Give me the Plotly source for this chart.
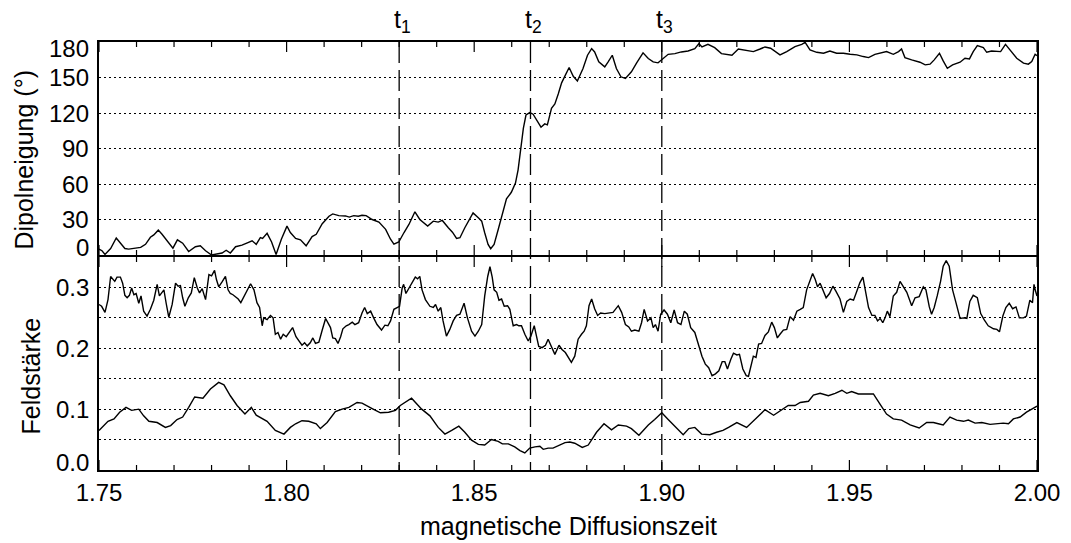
import plotly.graph_objects as go

# Dipolneigung in Grad über der magnetischen Diffusionszeit
t_neigung = [
    1.7500, 1.7508, 1.7516, 1.7531, 1.7546, 1.7557, 1.7569, 1.7579, 1.7597, 1.7611,
    1.7624, 1.7637, 1.7646, 1.7658, 1.7668, 1.7682, 1.7697, 1.7709, 1.7723, 1.7739,
    1.7757, 1.7770, 1.7784, 1.7800, 1.7815, 1.7828, 1.7839, 1.7850, 1.7864, 1.7881,
    1.7897, 1.7908, 1.7919, 1.7930, 1.7936, 1.7948, 1.7960, 1.7972, 1.7986, 1.8001,
    1.8010, 1.8024, 1.8037, 1.8052, 1.8068, 1.8079, 1.8095, 1.8113, 1.8123, 1.8139,
    1.8157, 1.8167, 1.8179, 1.8191, 1.8201, 1.8212, 1.8228, 1.8246, 1.8264, 1.8277,
    1.8286, 1.8299, 1.8313, 1.8326,
    1.8342, 1.8355, 1.8376, 1.8391, 1.8404, 1.8415, 1.8431, 1.8442, 1.8453, 1.8462,
    1.8475, 1.8488, 1.8497, 1.8511, 1.8520, 1.8528, 1.8537, 1.8544, 1.8553, 1.8564,
    1.8575, 1.8586, 1.8599, 1.8610, 1.8617, 1.8624, 1.8631, 1.8638, 1.8648, 1.8657,
    1.8666, 1.8678, 1.8688, 1.8695, 1.8706, 1.8715, 1.8724, 1.8733, 1.8743, 1.8753,
    1.8764, 1.8775, 1.8790, 1.8802, 1.8813, 1.8821, 1.8832, 1.8848, 1.8857, 1.8868,
    1.8879, 1.8891, 1.8903, 1.8919, 1.8933, 1.8950, 1.8964, 1.8977, 1.8990, 1.9000,
    1.9017, 1.9035, 1.9052, 1.9070, 1.9088, 1.9099, 1.9107, 1.9123, 1.9141, 1.9159,
    1.9177, 1.9187,
    1.9204, 1.9222, 1.9244, 1.9262, 1.9275, 1.9290, 1.9302, 1.9315, 1.9333, 1.9355,
    1.9373, 1.9382, 1.9395, 1.9413, 1.9431, 1.9448, 1.9466, 1.9484, 1.9502, 1.9520,
    1.9537, 1.9551, 1.9568, 1.9586, 1.9599, 1.9617, 1.9631, 1.9639, 1.9648, 1.9666,
    1.9688, 1.9702, 1.9715, 1.9726, 1.9740, 1.9750, 1.9761, 1.9775, 1.9795, 1.9808,
    1.9820, 1.9830, 1.9841, 1.9857, 1.9866, 1.9879, 1.9893, 1.9903, 1.9916, 1.9928,
    1.9946, 1.9964, 1.9977, 1.9986, 1.9995, 2.0000,
]
neigung = [
    5, 3.6, 0.5, 5.5, 14.4, 10.5, 5.5, 5, 5.5, 6.4,
    9, 15, 17, 21, 17.5, 12, 5.8, 12.8, 10, 3,
    7, 7.8, 3.6, 0, 1, 1.7, 4, 1.7, 7, 8.3,
    10.5, 12, 9, 14.7, 14, 18.3, 11, 0.5, 13.3, 24.4,
    19, 14, 12.8, 7.8, 15.6, 17.5, 26.4, 32.8, 34.7, 33.3,
    33, 32, 33.3, 32.8, 33.6, 33.3, 30, 27.8, 21.7, 13.3,
    9.2, 11, 19, 25.8,
    36.5, 30, 24.4, 28.6, 27.8, 29.2, 23, 19.3, 14, 14.6,
    23, 30.8, 35.6, 31.4, 28.6, 18.8, 9, 5.3, 9, 21.6,
    34.2, 47.4, 53, 60.8, 72, 91.7, 107, 118.3, 120.3, 119,
    114.7, 108, 110.8, 110, 124, 127.6, 136, 145.5, 152, 158.4,
    151, 147, 157.6, 168.8, 174.4, 171.6, 163.2, 159, 163.2, 168.8,
    157.6, 150.6, 149.2, 154.8, 162.4, 170.8, 166, 163.2, 162.4, 165.2,
    169.6, 170.2, 171.6, 172.4, 174.4, 178.6, 175.8, 178, 175.2, 170.2,
    169.6, 168.8,
    174.1, 173.3, 171.9, 174.1, 175.8, 174.7, 171.9, 169.1, 171.9, 176.1,
    178, 179.7, 173.3, 171.3, 170.5, 172.4, 170.5, 170.5, 169.6, 169.1,
    167.7, 166.8, 169.6, 171.3, 171.9, 169.6, 171.9, 174.1, 166.8, 164.9,
    162.9, 160.7, 161.3, 164.9, 170.5, 164, 157.8, 160.7, 162.9, 166.3,
    165.7, 171.9, 176.9, 175.2, 171.3, 172.4, 172.4, 171.9, 178, 173.3,
    166.3, 162.1, 161.3, 163.5, 169.6, 168.5,
]

# Feldstärke, stärkere (obere) Komponente
t_feld_oben = [
    1.7500, 1.7507, 1.7516, 1.7524, 1.7531, 1.7537, 1.7542, 1.7548, 1.7557, 1.7563,
    1.7569, 1.7575, 1.7581, 1.7587, 1.7593, 1.7599, 1.7606, 1.7612, 1.7619, 1.7628,
    1.7637, 1.7646, 1.7655, 1.7661, 1.7667, 1.7673, 1.7679, 1.7686, 1.7695, 1.7704,
    1.7711, 1.7717, 1.7723, 1.7729, 1.7738, 1.7746, 1.7754, 1.7762, 1.7768, 1.7775,
    1.7784, 1.7793, 1.7800, 1.7808, 1.7813, 1.7819, 1.7828, 1.7837, 1.7844, 1.7850,
    1.7857, 1.7864, 1.7871, 1.7878, 1.7886, 1.7895, 1.7904, 1.7913, 1.7921, 1.7928,
    1.7935, 1.7939, 1.7948, 1.7957, 1.7964, 1.7970, 1.7977, 1.7984, 1.7991, 1.7999,
    1.8008, 1.8016, 1.8025, 1.8032, 1.8041, 1.8048, 1.8055, 1.8063, 1.8070, 1.8077,
    1.8086, 1.8095, 1.8104, 1.8111, 1.8117, 1.8123, 1.8130, 1.8137, 1.8144, 1.8150,
    1.8159, 1.8166, 1.8175, 1.8182, 1.8192, 1.8201, 1.8208, 1.8215, 1.8224, 1.8232,
    1.8241, 1.8253, 1.8262, 1.8270, 1.8277, 1.8286, 1.8294, 1.8301, 1.8308, 1.8312,
    1.8318, 1.8327, 1.8336, 1.8343,
    1.8349, 1.8355, 1.8361, 1.8370, 1.8382, 1.8391, 1.8397, 1.8404, 1.8411, 1.8417,
    1.8426, 1.8435, 1.8444, 1.8453, 1.8462, 1.8473, 1.8482, 1.8493, 1.8502, 1.8511,
    1.8520, 1.8528, 1.8536, 1.8542, 1.8548, 1.8553, 1.8560, 1.8566, 1.8573, 1.8580,
    1.8589, 1.8595, 1.8604, 1.8613, 1.8619, 1.8626, 1.8635, 1.8644, 1.8651, 1.8660,
    1.8666, 1.8672, 1.8681, 1.8690, 1.8697, 1.8706, 1.8715, 1.8726, 1.8734, 1.8743,
    1.8752, 1.8759, 1.8768, 1.8777, 1.8786, 1.8793, 1.8799, 1.8806, 1.8813, 1.8821,
    1.8829, 1.8837, 1.8848, 1.8859, 1.8870, 1.8884, 1.8893, 1.8903, 1.8912, 1.8919,
    1.8928, 1.8939, 1.8946, 1.8953, 1.8962, 1.8971, 1.8977, 1.8983, 1.8990, 1.8997,
    1.9006, 1.9015, 1.9024, 1.9033, 1.9042, 1.9051, 1.9060, 1.9068, 1.9077, 1.9088,
    1.9097, 1.9107, 1.9116, 1.9125, 1.9134, 1.9143, 1.9152, 1.9161, 1.9168, 1.9175,
    1.9184,
    1.9191, 1.9200, 1.9207, 1.9216, 1.9225, 1.9231, 1.9237, 1.9244, 1.9251, 1.9258,
    1.9266, 1.9275, 1.9284, 1.9293, 1.9300, 1.9308, 1.9315, 1.9324, 1.9333, 1.9342,
    1.9351, 1.9360, 1.9369, 1.9377, 1.9386, 1.9395, 1.9402, 1.9409, 1.9415, 1.9422,
    1.9429, 1.9438, 1.9447, 1.9456, 1.9464, 1.9475, 1.9484, 1.9493, 1.9502, 1.9511,
    1.9520, 1.9528, 1.9536, 1.9542, 1.9551, 1.9560, 1.9568, 1.9575, 1.9582, 1.9589,
    1.9595, 1.9601, 1.9608, 1.9617, 1.9626, 1.9635, 1.9644, 1.9653, 1.9666, 1.9675,
    1.9686, 1.9697, 1.9704, 1.9713, 1.9719, 1.9726, 1.9734, 1.9743, 1.9750, 1.9758,
    1.9766, 1.9775, 1.9784, 1.9795, 1.9804, 1.9813, 1.9821, 1.9830, 1.9841, 1.9850,
    1.9859, 1.9870, 1.9884, 1.9893, 1.9900, 1.9909, 1.9917, 1.9926, 1.9935, 1.9944,
    1.9953, 1.9964, 1.9972, 1.9981, 1.9988, 1.9992, 1.9996, 2.0000,
]
feld_oben = [
    0.272, 0.269, 0.259, 0.280, 0.318, 0.314, 0.310, 0.317, 0.317, 0.307,
    0.287, 0.283, 0.287, 0.299, 0.288, 0.290, 0.274, 0.286, 0.261, 0.253,
    0.264, 0.279, 0.305, 0.286, 0.291, 0.296, 0.274, 0.251, 0.272, 0.307,
    0.302, 0.303, 0.283, 0.269, 0.283, 0.291, 0.316, 0.299, 0.291, 0.298,
    0.280, 0.321, 0.319, 0.328, 0.313, 0.301, 0.309, 0.318, 0.296, 0.290,
    0.288, 0.285, 0.281, 0.275, 0.285, 0.294, 0.306, 0.296, 0.275, 0.267,
    0.237, 0.250, 0.247, 0.254, 0.250, 0.223, 0.226, 0.215, 0.223, 0.219,
    0.226, 0.234, 0.219, 0.212, 0.205, 0.209, 0.204, 0.209, 0.217, 0.208,
    0.210, 0.230, 0.249, 0.241, 0.234, 0.217, 0.216, 0.208, 0.219, 0.232,
    0.237, 0.239, 0.243, 0.239, 0.242, 0.258, 0.267, 0.257, 0.261, 0.250,
    0.239, 0.230, 0.238, 0.237, 0.245, 0.264, 0.267, 0.269, 0.299, 0.305,
    0.290, 0.299, 0.310, 0.317,
    0.314, 0.318, 0.296, 0.280, 0.269, 0.267, 0.272, 0.261, 0.267, 0.245,
    0.220, 0.231, 0.245, 0.254, 0.256, 0.274, 0.250, 0.228, 0.220, 0.228,
    0.239, 0.286, 0.318, 0.334, 0.317, 0.296, 0.292, 0.279, 0.281, 0.269,
    0.270, 0.264, 0.237, 0.239, 0.237, 0.237, 0.223, 0.212, 0.220, 0.237,
    0.220, 0.203, 0.201, 0.205, 0.215, 0.201, 0.190, 0.205, 0.198, 0.193,
    0.185, 0.177, 0.187, 0.215, 0.223, 0.228, 0.237, 0.270, 0.281, 0.265,
    0.254, 0.258, 0.257, 0.258, 0.259, 0.270, 0.259, 0.239, 0.235, 0.228,
    0.230, 0.228, 0.242, 0.264, 0.245, 0.250, 0.234, 0.239, 0.228, 0.256,
    0.263, 0.256, 0.242, 0.263, 0.242, 0.239, 0.261, 0.256, 0.234, 0.226,
    0.207, 0.187, 0.174, 0.168, 0.155, 0.158, 0.163, 0.178, 0.178, 0.166,
    0.182,
    0.192, 0.189, 0.190, 0.166, 0.155, 0.154, 0.171, 0.187, 0.185, 0.207,
    0.208, 0.221, 0.227, 0.243, 0.234, 0.217, 0.223, 0.230, 0.231, 0.252,
    0.246, 0.261, 0.264, 0.267, 0.296, 0.310, 0.323, 0.313, 0.301, 0.307,
    0.296, 0.283, 0.290, 0.302, 0.294, 0.281, 0.259, 0.277, 0.281, 0.279,
    0.294, 0.308, 0.317, 0.299, 0.267, 0.254, 0.254, 0.245, 0.249, 0.242,
    0.250, 0.261, 0.252, 0.286, 0.292, 0.310, 0.301, 0.292, 0.270, 0.283,
    0.285, 0.301, 0.296, 0.268, 0.256, 0.267, 0.286, 0.310, 0.335, 0.344,
    0.335, 0.296, 0.275, 0.249, 0.250, 0.249, 0.277, 0.287, 0.283, 0.257,
    0.247, 0.237, 0.232, 0.231, 0.227, 0.253, 0.267, 0.274, 0.265, 0.268,
    0.250, 0.250, 0.253, 0.279, 0.275, 0.305, 0.294, 0.286,
]

# Feldstärke, schwächere (untere) Komponente
t_feld_unten = [
    1.7500, 1.7510, 1.7524, 1.7540, 1.7555, 1.7572, 1.7587, 1.7606, 1.7619, 1.7633,
    1.7655, 1.7677, 1.7691, 1.7708, 1.7723, 1.7739, 1.7755, 1.7777, 1.7797, 1.7819,
    1.7833, 1.7850, 1.7868, 1.7889, 1.7906, 1.7919, 1.7933, 1.7948, 1.7970, 1.7993,
    1.8010, 1.8024, 1.8041, 1.8059, 1.8079, 1.8090, 1.8108, 1.8130, 1.8148, 1.8166,
    1.8188, 1.8201, 1.8228, 1.8250, 1.8272, 1.8290, 1.8303, 1.8321, 1.8333,
    1.8360, 1.8382, 1.8404, 1.8422, 1.8440, 1.8459, 1.8475, 1.8493, 1.8511, 1.8528,
    1.8546, 1.8564, 1.8575, 1.8591, 1.8608, 1.8622, 1.8635, 1.8648, 1.8662, 1.8675,
    1.8684, 1.8697, 1.8710, 1.8726, 1.8742, 1.8755, 1.8768, 1.8788, 1.8804, 1.8826,
    1.8846, 1.8866, 1.8884, 1.8906, 1.8919, 1.8939, 1.8964, 1.8981, 1.9000, 1.9017,
    1.9039, 1.9057, 1.9072, 1.9088, 1.9106, 1.9128, 1.9146, 1.9163, 1.9178,
    1.9200, 1.9226, 1.9249, 1.9275, 1.9298, 1.9320, 1.9337, 1.9355, 1.9369, 1.9391,
    1.9404, 1.9422, 1.9444, 1.9462, 1.9480, 1.9493, 1.9506, 1.9524, 1.9546, 1.9564,
    1.9582, 1.9599, 1.9617, 1.9639, 1.9662, 1.9686, 1.9706, 1.9724, 1.9737, 1.9750,
    1.9768, 1.9786, 1.9804, 1.9817, 1.9835, 1.9853, 1.9875, 1.9893, 1.9910, 1.9924,
    1.9937, 1.9955, 1.9972, 1.9986, 2.0000,
]
feld_unten = [
    0.065, 0.072, 0.080, 0.084, 0.095, 0.103, 0.098, 0.100, 0.089, 0.080,
    0.078, 0.070, 0.073, 0.083, 0.087, 0.103, 0.120, 0.118, 0.133, 0.144,
    0.140, 0.122, 0.106, 0.092, 0.103, 0.090, 0.085, 0.080, 0.065, 0.059,
    0.070, 0.076, 0.081, 0.080, 0.076, 0.068, 0.078, 0.096, 0.100, 0.103,
    0.111, 0.110, 0.101, 0.094, 0.095, 0.098, 0.106, 0.114, 0.118,
    0.100, 0.089, 0.070, 0.059, 0.065, 0.072, 0.062, 0.049, 0.042, 0.041,
    0.050, 0.047, 0.043, 0.043, 0.038, 0.032, 0.028, 0.036, 0.038, 0.039,
    0.034, 0.036, 0.036, 0.041, 0.045, 0.046, 0.044, 0.037, 0.041, 0.062,
    0.076, 0.066, 0.074, 0.072, 0.068, 0.057, 0.074, 0.083, 0.094, 0.083,
    0.069, 0.058, 0.068, 0.070, 0.059, 0.058, 0.062, 0.065, 0.070,
    0.078, 0.070, 0.084, 0.099, 0.090, 0.099, 0.106, 0.106, 0.111, 0.113,
    0.123, 0.126, 0.122, 0.126, 0.131, 0.126, 0.129, 0.125, 0.125, 0.125,
    0.108, 0.092, 0.084, 0.082, 0.074, 0.069, 0.078, 0.078, 0.076, 0.074,
    0.087, 0.082, 0.080, 0.082, 0.077, 0.078, 0.075, 0.076, 0.077, 0.076,
    0.084, 0.087, 0.095, 0.100, 0.105,
]

# markierte Zeitpunkte
ereignis_t = [1.83, 1.865, 1.90]
ereignis_namen = ["t<sub>1</sub>", "t<sub>2</sub>", "t<sub>3</sub>"]

# Achsenbeschriftungen
zeit_ticks = [1.75, 1.80, 1.85, 1.90, 1.95, 2.00]
zeit_schritt_fein = 0.01
neigung_ticks = [0, 30, 60, 90, 120, 150, 180]
feld_ticks = [0.0, 0.1, 0.2, 0.3]

FONT = "Liberation Sans, Arial, Helvetica, sans-serif"
TICK_SIZE = 24
TITLE_SIZE = 25
STRICH_FARBE = "black"

# Zeichenfläche 428 px hoch; die beiden Rahmenlinien in der Mitte
# sollen auf derselben Pixelzeile liegen
PLOT_H = 428
FUGE = 1 / PLOT_H

fig = go.Figure()

kurve = dict(color="black", width=1.4)
fig.add_trace(go.Scatter(x=t_neigung, y=neigung, mode="lines", line=kurve,
                         xaxis="x2", yaxis="y2", hoverinfo="skip"))
fig.add_trace(go.Scatter(x=t_feld_oben, y=feld_oben, mode="lines", line=kurve,
                         xaxis="x", yaxis="y", hoverinfo="skip"))
fig.add_trace(go.Scatter(x=t_feld_unten, y=feld_unten, mode="lines", line=kurve,
                         xaxis="x", yaxis="y", hoverinfo="skip"))

x_gemeinsam = dict(
    range=[zeit_ticks[0], zeit_ticks[-1]], ticks="",
    showline=True, linewidth=2, linecolor="black", mirror=True,
    showgrid=False, zeroline=False,
)
y_gemeinsam = dict(
    showticklabels=False, ticks="",
    showgrid=True, gridcolor="black", gridwidth=1, griddash="2px,3px",
    showline=True, linewidth=2, linecolor="black", mirror=True, zeroline=False,
)

fig.update_layout(
    width=1071, height=543,
    margin=dict(l=99, r=34, t=42, b=73),
    paper_bgcolor="white", plot_bgcolor="white",
    showlegend=False,
    font=dict(family=FONT, color="black", size=TICK_SIZE),
    xaxis=dict(**x_gemeinsam, anchor="y", domain=[0, 1],
               tickmode="array", tickvals=zeit_ticks,
               ticktext=[f"{v:.2f}" for v in zeit_ticks],
               tickfont=dict(family=FONT, size=TICK_SIZE, color="black")),
    xaxis2=dict(**x_gemeinsam, anchor="y2", matches="x",
                tickmode="array", tickvals=[], showticklabels=False),
    yaxis=dict(**y_gemeinsam, anchor="x", domain=[0, 0.5 - FUGE], range=[0, 0.35],
               tick0=0, dtick=0.05),
    yaxis2=dict(**y_gemeinsam, anchor="x2", domain=[0.5 + FUGE, 1],
                range=[neigung_ticks[0], neigung_ticks[-1]], tick0=0, dtick=30),
)

# Zeitachsen-Striche nach innen an allen vier waagrechten Rahmenlinien
n_fein = int(round((zeit_ticks[-1] - zeit_ticks[0]) / zeit_schritt_fein))
fein = [round(zeit_ticks[0] + i * zeit_schritt_fein, 4) for i in range(n_fein + 1)]
rahmen = [(0.0, 1), (0.5 - FUGE, -1), (0.5 + FUGE, 1), (1.0, -1)]
for t in fein:
    laenge = 10 if any(abs(t - m) < 1e-9 for m in zeit_ticks) else 5
    for y_rand, richtung in rahmen:
        fig.add_shape(type="line", xref="x", yref="paper", ysizemode="pixel",
                      yanchor=y_rand, x0=t, x1=t, y0=0, y1=richtung * laenge,
                      line=dict(color=STRICH_FARBE, width=1.2), layer="above")

# senkrechte, gestrichelte Markierungen über beide Felder
for t in ereignis_t:
    fig.add_shape(type="line", xref="x", yref="paper", x0=t, x1=t, y0=1, y1=0,
                  line=dict(color="black", width=1.3, dash="21px,7px"), layer="above")

annot = []
for t, name in zip(ereignis_t, ereignis_namen):
    annot.append(dict(x=t, xref="x", y=1, yref="paper", text=name, showarrow=False,
                      xanchor="center", yanchor="middle", xshift=3, yshift=21,
                      font=dict(family=FONT, size=TITLE_SIZE, color="black")))


def y_label(v, achse, text, lo, hi):
    # Randbeschriftungen werden nach innen versetzt
    shift = 0
    if v == hi:
        shift = -6.5
    elif v == lo:
        shift = 7.5
    return dict(x=0, xref="paper", y=v, yref=achse, text=text, showarrow=False,
                xanchor="right", yanchor="middle", xshift=-8, yshift=shift,
                font=dict(family=FONT, size=TICK_SIZE, color="black"))


for v in neigung_ticks:
    annot.append(y_label(v, "y2", str(v), neigung_ticks[0], neigung_ticks[-1]))
for v in feld_ticks:
    annot.append(y_label(v, "y", f"{v:.1f}", 0.0, 0.35))

annot.append(dict(x=0, xref="paper", y=0.448, yref="y2 domain",
                  text="Dipolneigung (°)", textangle=-90, showarrow=False,
                  xanchor="center", yanchor="middle", xshift=-75,
                  font=dict(family=FONT, size=TITLE_SIZE, color="black")))
annot.append(dict(x=0, xref="paper", y=0.439, yref="y domain",
                  text="Feldstärke", textangle=-90, showarrow=False,
                  xanchor="center", yanchor="middle", xshift=-68,
                  font=dict(family=FONT, size=TITLE_SIZE, color="black")))
annot.append(dict(x=0.5, xref="paper", y=0, yref="paper",
                  text="magnetische Diffusionszeit", showarrow=False,
                  xanchor="center", yanchor="middle", yshift=-56,
                  font=dict(family=FONT, size=TITLE_SIZE, color="black")))

fig.update_layout(annotations=annot)

fig.write_html("out.html")
